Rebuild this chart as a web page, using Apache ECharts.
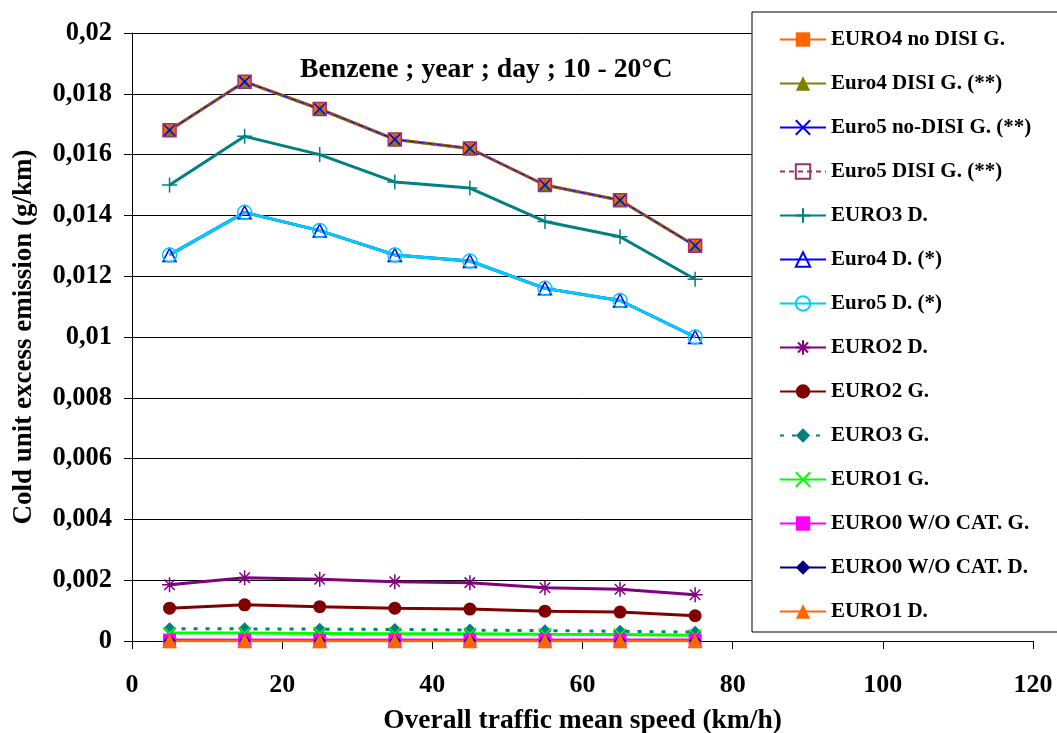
<!DOCTYPE html>
<html>
<head>
<meta charset="utf-8">
<script src="https://cdn.jsdelivr.net/npm/echarts@6/dist/echarts.min.js"></script>
<style>
html,body{margin:0;padding:0;background:#fff;}
#chart{width:1057px;height:733px;}
</style>
</head>
<body>
<div id="chart"></div>
<script>
// ---- data ----
const speeds = [5, 15, 25, 35, 45, 55, 65, 75];
const xTicks = [0, 20, 40, 60, 80, 100, 120];
const yTicks = [0, 0.002, 0.004, 0.006, 0.008, 0.01, 0.012, 0.014, 0.016, 0.018, 0.02];

const euro4NoDisiG   = [0.0168, 0.0184, 0.0175, 0.0165, 0.0162, 0.0150, 0.0145, 0.0130];
const euro4DisiG     = [0.0168, 0.0184, 0.0175, 0.0165, 0.0162, 0.0150, 0.0145, 0.0130];
const euro5NoDisiG   = [0.0168, 0.0184, 0.0175, 0.0165, 0.0162, 0.0150, 0.0145, 0.0130];
const euro5DisiG     = [0.0168, 0.0184, 0.0175, 0.0165, 0.0162, 0.0150, 0.0145, 0.0130];
const euro3D         = [0.0150, 0.0166, 0.0160, 0.0151, 0.0149, 0.0138, 0.0133, 0.0119];
const euro4D         = [0.0127, 0.0141, 0.0135, 0.0127, 0.0125, 0.0116, 0.0112, 0.0100];
const euro5D         = [0.0127, 0.0141, 0.0135, 0.0127, 0.0125, 0.0116, 0.0112, 0.0100];
const euro2D         = [0.00185, 0.00208, 0.00203, 0.00195, 0.00192, 0.00175, 0.00170, 0.00152];
const euro2G         = [0.00108, 0.00119, 0.00113, 0.00108, 0.00105, 0.00098, 0.00095, 0.00083];
const euro3G         = [0.00040, 0.00040, 0.00039, 0.00038, 0.00036, 0.00034, 0.00032, 0.00029];
const euro1G         = [0.00026, 0.00026, 0.00025, 0.00024, 0.00024, 0.00022, 0.00021, 0.00019];
const euro0G         = [0.00003, 0.00003, 0.00003, 0.00003, 0.00003, 0.00003, 0.00003, 0.00003];
const euro0D         = [0.00002, 0.00002, 0.00002, 0.00002, 0.00002, 0.00002, 0.00002, 0.00002];
const euro1D         = [0.00001, 0.00001, 0.00001, 0.00001, 0.00001, 0.00001, 0.00001, 0.00001];

const titleText = 'Benzene ; year ; day ; 10 - 20°C';
const xName = 'Overall traffic mean speed (km/h)';
const yName = 'Cold unit excess emission (g/km)';

// ---- styling ----
const FONT = "'Liberation Serif', 'Times New Roman', serif";
const SYM_X = 'path://M0,0L10,10M10,0L0,10';
const SYM_PLUS = 'path://M5,0L5,10M0,5L10,5';
const SYM_STAR = 'path://M5,0L5,10M1.5,1.5L8.5,8.5M8.5,1.5L1.5,8.5M0,5L10,5';
const SYM_SQ = 'path://M0,0L10,0L10,10L0,10Z';
const SYM_TRI = 'path://M5,0L10,10L0,10Z';
const SYM_CIRC = 'path://M10,5A5,5,0,1,1,0,5A5,5,0,1,1,10,5Z';

function pts(arr) { return speeds.map((s, i) => [s, arr[i]]); }

function mk(name, data, color, width, symbol, size, opts) {
  opts = opts || {};
  const s = {
    name: name,
    type: 'line',
    data: pts(data),
    color: color,
    symbol: symbol,
    symbolSize: size,
    showAllSymbol: true,
    animation: false,
    lineStyle: { color: color, width: width, type: opts.dash || 'solid' },
    itemStyle: { color: color },
    emphasis: { disabled: true }
  };
  if (opts.stroke) {
    s.itemStyle = { color: color, borderColor: color, borderWidth: opts.stroke };
  }
  if (opts.hollow) {
    s.itemStyle = { color: 'rgba(0,0,0,0)', borderColor: color, borderWidth: opts.hollow };
  }
  return s;
}

const series = [
  mk('EURO4 no DISI G.', euro4NoDisiG, '#FF6600', 3, 'rect', 13),
  mk('Euro4 DISI G. (**)', euro4DisiG, '#808000', 3, 'triangle', 12),
  mk('Euro5 no-DISI G. (**)', euro5NoDisiG, '#0000FF', 1.2, SYM_X, 11, { stroke: 1.5 }),
  mk('Euro5 DISI G. (**)', euro5DisiG, '#993366', 2, SYM_SQ, 13, { dash: [5, 4], hollow: 1.5 }),
  mk('EURO3 D.', euro3D, '#008080', 3, SYM_PLUS, 15, { stroke: 1.5 }),
  mk('Euro4 D. (*)', euro4D, '#0000FF', 3, SYM_TRI, 13, { hollow: 1.5 }),
  mk('Euro5 D. (*)', euro5D, '#00CCFF', 3, SYM_CIRC, 14, { hollow: 1.5 }),
  mk('EURO2 D.', euro2D, '#800080', 3, SYM_STAR, 15, { stroke: 1.5 }),
  mk('EURO2 G.', euro2G, '#800000', 3, 'circle', 13),
  mk('EURO3 G.', euro3G, '#008080', 3, 'diamond', 13, { dash: [4, 8] }),
  mk('EURO1 G.', euro1G, '#00FF00', 3, SYM_X, 12, { stroke: 1.5 }),
  mk('EURO0 W/O CAT. G.', euro0G, '#FF00FF', 3, 'rect', 13),
  mk('EURO0 W/O CAT. D.', euro0D, '#000080', 3, 'diamond', 12),
  mk('EURO1 D.', euro1D, '#FF6600', 3, 'triangle', 15)
];

function fmtY(v) {
  if (v === 0) return '0';
  return String(+v.toFixed(4)).replace('.', ',');
}

const chart = echarts.init(document.getElementById('chart'), null, { renderer: 'canvas' });
chart.setOption({
  backgroundColor: '#ffffff',
  animation: false,
  title: {
    text: titleText,
    left: 300,
    top: 56,
    padding: 0,
    textStyle: { fontFamily: FONT, fontWeight: 'bold', fontSize: 27.7, color: '#000' }
  },
  grid: { left: 132, right: 24, top: 33, bottom: 92, containLabel: false, outerBoundsMode: 'none' },
  legend: {
    orient: 'vertical',
    left: 752,
    top: 12,
    padding: [17, 60, 10, 27],
    itemGap: 23,
    itemWidth: 46,
    itemHeight: 18,
    backgroundColor: '#ffffff',
    borderColor: '#000000',
    borderWidth: 1,
    borderRadius: 0,
    z: 10,
    textStyle: { fontFamily: FONT, fontWeight: 'bold', fontSize: 21, color: '#000', lineHeight: 20 },
    data: series.map(s => s.name)
  },
  xAxis: {
    type: 'value',
    min: xTicks[0],
    max: xTicks[xTicks.length - 1],
    interval: 20,
    name: xName,
    nameLocation: 'middle',
    nameGap: 66,
    nameTextStyle: { fontFamily: FONT, fontWeight: 'bold', fontSize: 27.5, color: '#000' },
    axisLine: { show: true, onZero: false, lineStyle: { color: '#000', width: 1 } },
    axisTick: { show: true, length: 8, inside: false, lineStyle: { color: '#000' } },
    axisLabel: { margin: 31, fontFamily: FONT, fontWeight: 'bold', fontSize: 26, color: '#000' },
    splitLine: { show: false }
  },
  yAxis: {
    type: 'value',
    min: yTicks[0],
    max: yTicks[yTicks.length - 1],
    interval: 0.002,
    name: yName,
    nameLocation: 'middle',
    nameGap: 94,
    nameTextStyle: { fontFamily: FONT, fontWeight: 'bold', fontSize: 27, color: '#000' },
    axisLine: { show: true, lineStyle: { color: '#000', width: 1 } },
    axisTick: { show: true, length: 8, inside: false, lineStyle: { color: '#000' } },
    axisLabel: { margin: 20, fontFamily: FONT, fontWeight: 'bold', fontSize: 26.5, color: '#000', formatter: fmtY },
    splitLine: { show: true, lineStyle: { color: '#000', width: 1 } }
  },
  series: series
});
</script>
</body>
</html>
